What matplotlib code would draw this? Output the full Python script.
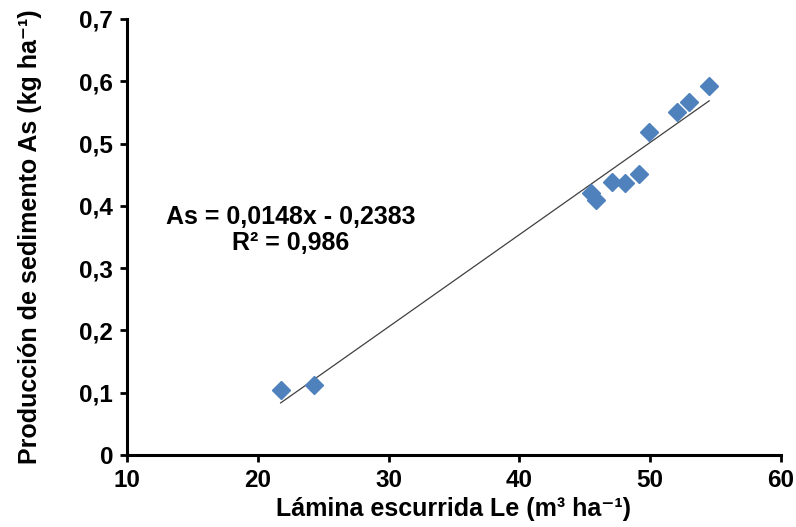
import numpy as np
import matplotlib.pyplot as plt

# runoff (m3/ha) vs sediment yield (kg/ha)
lamina = [21.75, 24.3, 45.45, 45.9, 47.05, 48.07, 49.17, 49.93, 52.02, 52.99, 54.52]
sedimento = [0.104, 0.112, 0.420, 0.410, 0.439, 0.436, 0.451, 0.519, 0.551, 0.567, 0.592]

pendiente = 0.0148
intercepto = -0.2383

xticks = [10, 20, 30, 40, 50, 60]
yticks = [0, 0.1, 0.2, 0.3, 0.4, 0.5, 0.6, 0.7]
ytick_labels = ["0", "0,1", "0,2", "0,3", "0,4", "0,5", "0,6", "0,7"]

plt.rcParams['font.family'] = ['Liberation Sans', 'DejaVu Sans']

fig = plt.figure(figsize=(7.96, 5.27), dpi=100)
ax = fig.add_axes([0.1595, 0.1366, 0.8215, 0.8274])

ax.plot(lamina, sedimento, linestyle="none", marker="D", markersize=9,
        color="#4F81BD", zorder=3)

xl = np.array([min(lamina), max(lamina)])
ax.plot(xl, pendiente * xl + intercepto, color="#404040", linewidth=0.9, zorder=2)

ax.set_xlim(10, 60)
ax.set_ylim(0, 0.7)
ax.set_xticks(xticks)
ax.set_yticks(yticks)
ax.set_yticklabels(ytick_labels)

for side in ["top", "right"]:
    ax.spines[side].set_visible(False)
for side in ["left", "bottom"]:
    ax.spines[side].set_linewidth(2.2)
    ax.spines[side].set_color("black")

ax.tick_params(axis="both", direction="out", length=5, width=2, labelsize=17.5, pad=5)
for lab in ax.get_xticklabels() + ax.get_yticklabels():
    lab.set_fontweight("bold")

ax.set_xlabel("Lámina escurrida Le (m³ ha⁻¹)", fontsize=18, fontweight="bold",
              labelpad=4, family=['Liberation Sans', 'DejaVu Sans'])
ax.set_ylabel("Producción de sedimento As (kg ha⁻¹)", fontsize=18, fontweight="bold",
              family=['Liberation Sans', 'DejaVu Sans'])
ax.yaxis.set_label_coords(-0.13, 0.5)

ax.text(0.251, 0.516, "As = 0,0148x - 0,2383\nR² = 0,986", transform=ax.transAxes,
        ha="center", va="center", fontsize=18, fontweight="bold",
        multialignment="center", linespacing=1.1)

fig.savefig("out.png", dpi=100)
